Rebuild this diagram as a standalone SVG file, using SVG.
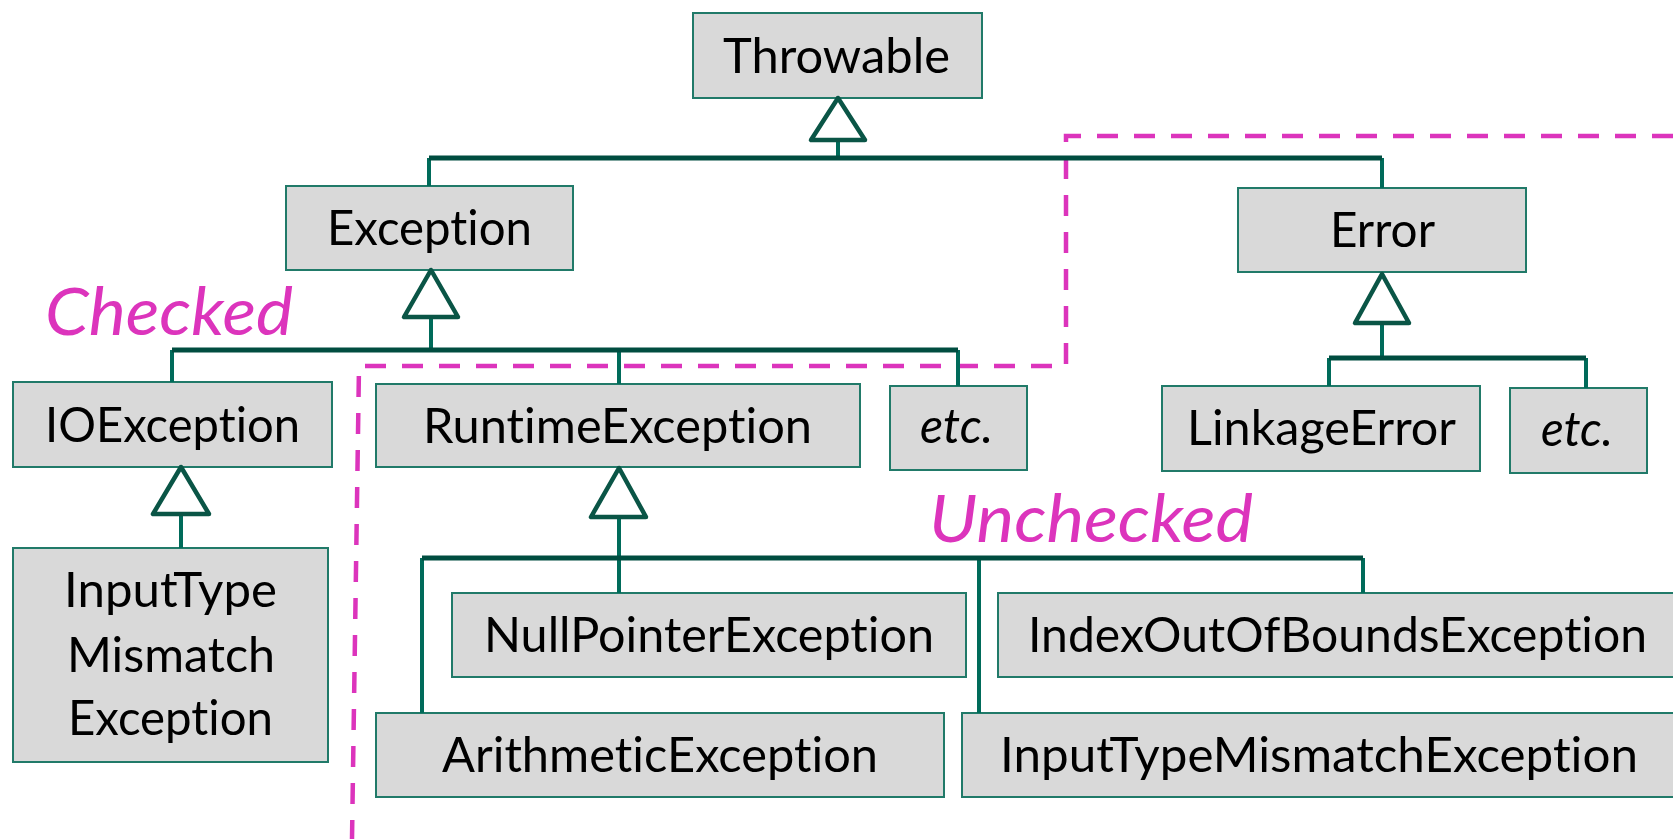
<svg xmlns="http://www.w3.org/2000/svg" width="1673" height="839" viewBox="0 0 1673 839">
  <style>
    .box { fill: #d9d9d9; stroke: #217a69; stroke-width: 2; }
    .lbl { font-family: Lato, "Open Sans", "Liberation Sans", sans-serif; font-size: 49px; fill: #000; font-variant-ligatures: none; font-feature-settings: "liga" 0, "clig" 0, "calt" 0, "dlig" 0; letter-spacing: 0.01px; }
    .it { font-style: italic; }
    .zone { font-family: Lato, "Open Sans", "Liberation Sans", sans-serif; font-size: 66px; font-style: italic; fill: #dc34bc; font-variant-ligatures: none; font-feature-settings: "liga" 0, "clig" 0, "calt" 0; }
    .bound { fill: none; stroke: #dc34bc; stroke-width: 4.5; stroke-dasharray: 21 16; }
    .bar { fill: none; stroke: #004d40; stroke-width: 5; stroke-linejoin: round; }
    .wire { fill: none; stroke: #006b5a; stroke-width: 4; }
    .tri { fill: #fff; stroke: #0a5546; stroke-width: 4.5; stroke-linejoin: round; }
  </style>

  <!-- checked / unchecked boundary -->
  <g id="boundary">
    <path class="bound" d="M1673,136 L1066,136 L1066,366 L359,366 L352,839"/>
    <text class="zone" x="45" y="335" textLength="248" lengthAdjust="spacingAndGlyphs">Checked</text>
    <text class="zone" x="929" y="542" textLength="324" lengthAdjust="spacingAndGlyphs">Unchecked</text>
  </g>

  <g id="throwable">
    <rect class="box" x="693" y="13" width="289" height="85"/>
    <text class="lbl" x="723" y="73" textLength="227" lengthAdjust="spacingAndGlyphs">Throwable</text>
  </g>
  <g id="exception">
    <rect class="box" x="286" y="186" width="287" height="84"/>
    <text class="lbl" x="327" y="245" textLength="205" lengthAdjust="spacingAndGlyphs">Exception</text>
  </g>
  <g id="error">
    <rect class="box" x="1238" y="188" width="288" height="84"/>
    <text class="lbl" x="1330" y="247" textLength="105" lengthAdjust="spacingAndGlyphs">Error</text>
  </g>
  <g id="ioexception">
    <rect class="box" x="13" y="382" width="319" height="85"/>
    <text class="lbl" x="45" y="442" textLength="255" lengthAdjust="spacingAndGlyphs">IOException</text>
  </g>
  <g id="runtimeexception">
    <rect class="box" x="376" y="384" width="484" height="83"/>
    <text class="lbl" x="423" y="443" textLength="389" lengthAdjust="spacingAndGlyphs">RuntimeException</text>
  </g>
  <g id="exception-etc">
    <rect class="box" x="890" y="386" width="137" height="84"/>
    <text class="lbl it" x="920" y="443" textLength="73" lengthAdjust="spacingAndGlyphs">etc.</text>
  </g>
  <g id="linkageerror">
    <rect class="box" x="1162" y="386" width="318" height="85"/>
    <text class="lbl" x="1187" y="445" textLength="269" lengthAdjust="spacingAndGlyphs">LinkageError</text>
  </g>
  <g id="error-etc">
    <rect class="box" x="1510" y="388" width="137" height="85"/>
    <text class="lbl it" x="1541" y="446" textLength="72" lengthAdjust="spacingAndGlyphs">etc.</text>
  </g>
  <g id="io-inputmismatch">
    <rect class="box" x="13" y="548" width="315" height="214"/>
    <text class="lbl" x="64" y="607" textLength="213" lengthAdjust="spacingAndGlyphs">InputType</text>
    <text class="lbl" x="67" y="672" textLength="208" lengthAdjust="spacingAndGlyphs">Mismatch</text>
    <text class="lbl" x="68" y="735" textLength="205" lengthAdjust="spacingAndGlyphs">Exception</text>
  </g>
  <g id="nullpointer">
    <rect class="box" x="452" y="593" width="514" height="84"/>
    <text class="lbl" x="484" y="652" textLength="450" lengthAdjust="spacingAndGlyphs">NullPointerException</text>
  </g>
  <g id="indexoutofbounds">
    <rect class="box" x="998" y="593" width="700" height="84"/>
    <text class="lbl" x="1028" y="652" textLength="619" lengthAdjust="spacingAndGlyphs">IndexOutOfBoundsException</text>
  </g>
  <g id="arithmetic">
    <rect class="box" x="376" y="713" width="568" height="84"/>
    <text class="lbl" x="442" y="772" textLength="436" lengthAdjust="spacingAndGlyphs">ArithmeticException</text>
  </g>
  <g id="inputtypemismatch">
    <rect class="box" x="962" y="713" width="750" height="84"/>
    <text class="lbl" x="1000" y="772" textLength="638" lengthAdjust="spacingAndGlyphs">InputTypeMismatchException</text>
  </g>

  <!-- generalization links -->
  <g id="connectors">
    <!-- Throwable subtree -->
    <path class="wire" d="M838,140 V158 M429,158 V186 M1382,158 V188"/>
    <path class="bar" d="M429,158 H1382"/>
    <path class="tri" d="M838,98 L811,140 L865,140 Z"/>

    <!-- Exception subtree -->
    <path class="wire" d="M431,317 V350 M172,350 V382 M619,350 V384 M958,350 V386"/>
    <path class="bar" d="M172,350 H958"/>
    <path class="tri" d="M431,270 L404,317 L458,317 Z"/>

    <!-- Error subtree -->
    <path class="wire" d="M1382,323 V358 M1329,358 V386 M1586,358 V388"/>
    <path class="bar" d="M1329,358 H1586"/>
    <path class="tri" d="M1382,274 L1355,323 L1409,323 Z"/>

    <!-- IOException subtree -->
    <path class="wire" d="M181,514 V548"/>
    <path class="tri" d="M181,467 L153,514 L209,514 Z"/>

    <!-- RuntimeException subtree -->
    <path class="wire" d="M619,517 V593 M422,558 V713 M979,558 V713 M1363,558 V593"/>
    <path class="bar" d="M422,558 H1363"/>
    <path class="tri" d="M619,468 L591,517 L646,517 Z"/>
  </g>
</svg>
